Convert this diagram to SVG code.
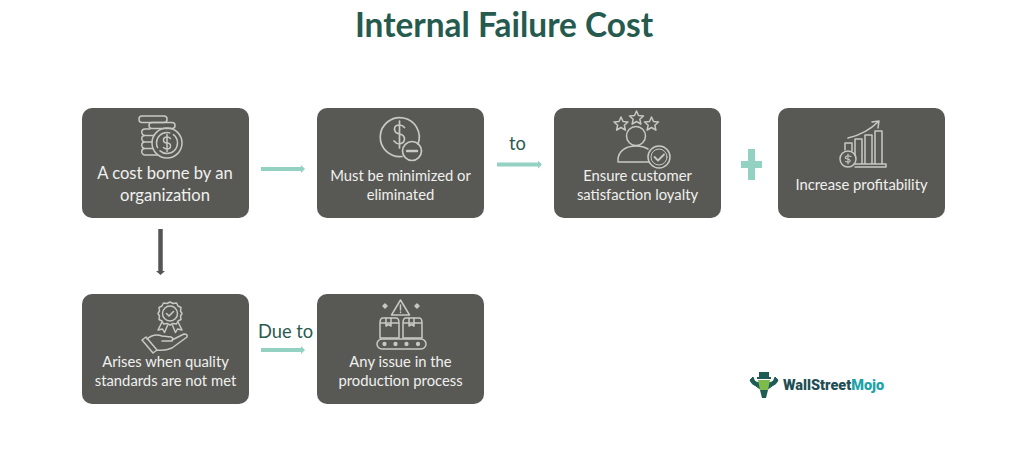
<svg xmlns="http://www.w3.org/2000/svg" width="1024" height="456" viewBox="0 0 1024 456">
<style>
.box{fill:#585955}
.t{font-family:Lato,"Noto Sans",sans-serif;fill:#f0f0ee;text-anchor:middle;font-size:14.8px}
.l{font-family:Lato,"Noto Sans",sans-serif;fill:#2a5a50;font-size:18.3px}
.i{fill:none;stroke:#c8c8c4;stroke-width:1.5;stroke-linejoin:round;stroke-linecap:round}
.tc{stroke:#93d2c2;stroke-width:3.800;fill:none}
</style>
<defs>
<marker id="mg" markerUnits="userSpaceOnUse" markerWidth="5" markerHeight="8" refX="1" refY="4" orient="auto"><path d="M0 0L4 4L0 8z" fill="#93d2c2"/></marker>
<marker id="md" markerUnits="userSpaceOnUse" markerWidth="5" markerHeight="9" refX="1" refY="4.5" orient="auto"><path d="M0 0L4 4.500L0 9z" fill="#555"/></marker>
</defs>
<rect width="1024" height="456" fill="#fff"/>
<text id="title" x="504" y="37" text-anchor="middle" style="font-family:Lato,'Noto Sans',sans-serif;font-weight:700;font-size:33.4px;fill:#255a4e">Internal Failure Cost</text>

<g id="connectors">
<line class="tc" x1="261" y1="169" x2="302" y2="169" marker-end="url(#mg)"/>
<line class="tc" x1="497" y1="164.500" x2="539" y2="164.500" marker-end="url(#mg)"/>
<line class="tc" x1="261" y1="350" x2="302" y2="350" marker-end="url(#mg)"/>
<line x1="160.500" y1="229" x2="160.500" y2="272" stroke="#555" stroke-width="4.500" marker-end="url(#md)"/>
<text class="l" x="509" y="150">to</text>
<text class="l" x="258" y="338">Due to</text>
<path id="plus" d="M748 149h7v12h7v7h-7v12h-7v-12h-7v-7h7z" fill="#93d2c2"/>
</g>

<g id="n1">
<rect class="box" x="82" y="108" width="167" height="110" rx="10"/>
<g class="i">
<rect x="139" y="116" width="28" height="6.500" rx="3"/>
<rect x="149" y="122.500" width="26" height="6" rx="3"/>
<path d="M150 129h-5a3 3 0 0 0 0 6.500a3 3 0 0 0 0 6.500a3 3 0 0 0 0 6.500a3 3 0 0 0 0 6.500h12M145 135.500h9M145 142h7M145 148.500h8"/>
<circle cx="167" cy="143" r="15"/>
<circle cx="167" cy="143" r="10.500" stroke-dasharray="24 4"/>
<path d="M170.500 138.500q-1.500-1.500-3.500-1.500q-3.500 0-3.500 3t3.500 3t3.500 3t-3.500 3q-2 0-3.500-1.500M167 134.500v17"/>
</g>
<text class="t" style="font-size:16.6px" x="165" y="179">A cost borne by an</text>
<text class="t" style="font-size:16.6px" x="165" y="201">organization</text>
</g>

<g id="n2">
<rect class="box" x="317" y="108" width="167" height="110" rx="10"/>
<g class="i">
<path d="M418 144a19.500 19.500 0 1 0-16 12.500" stroke-width="1.700"/>
<path d="M404.500 127.500q-2-2.500-5-2.500q-5 0-5 4t5 5t5 5t-5 5q-3 0-5.500-3M399.500 121v27" stroke-width="1.700"/>
<circle cx="412" cy="151" r="9.500" stroke-width="1.700"/>
<path d="M407 151h10" stroke-width="2.400"/>
</g>
<text class="t" x="400.500" y="181">Must be minimized or</text>
<text class="t" x="400.500" y="200">eliminated</text>
</g>

<g id="n3">
<rect class="box" x="554" y="108" width="167" height="110" rx="10"/>
<g class="i">
<path d="M621 117l2 4.500 5 .5-3.700 3.200 1.100 5-4.400-2.700-4.400 2.700 1.100-5-3.700-3.200 5-.5z"/>
<path d="M636.500 111l2 4.500 5 .5-3.700 3.200 1.100 5-4.400-2.700-4.400 2.700 1.100-5-3.700-3.200 5-.5z"/>
<path d="M651.500 117l2 4.500 5 .5-3.700 3.200 1.100 5-4.400-2.700-4.400 2.700 1.100-5-3.700-3.200 5-.5z"/>
<circle cx="636" cy="136" r="9.500"/>
<path d="M618 162v-2c0-9 8-14 18-14q7 0 12 3M618 162h31"/>
<circle cx="659" cy="157" r="11"/>
<circle cx="659" cy="157" r="8" stroke-width="1"/>
<path d="M654.500 157l3.500 3.500 6-6" stroke-width="1.800"/>
</g>
<text class="t" x="637.500" y="181">Ensure customer</text>
<text class="t" x="637.500" y="200">satisfaction loyalty</text>
</g>

<g id="n4">
<rect class="box" x="778" y="108" width="167" height="110" rx="10"/>
<g class="i">
<path d="M848 138q18-4 31-17M872 122l7-1-1 7"/>
<path d="M845 150v-7h7v8M855 155v-16h7v25M865 164v-29h7v29M875 164v-33h7v33M854 164h32v3h-31"/>
<circle cx="848" cy="159" r="8"/>
<path d="M851 156.500q-3-1.500-5 0t1.500 2.500t2.500 2.500t-4.500 0M848 154v10" stroke-width="1.100"/>
</g>
<text class="t" x="861.500" y="190">Increase profitability</text>
</g>

<g id="n5">
<rect class="box" x="82" y="294" width="167" height="110" rx="10"/>
<g class="i" stroke-width="1.300">
<path d="M170 302l3 1.500 3.500-.5 1.500 3 3 1.500-.5 3.500 1.500 2.500-1.500 2.500.5 3.500-3 1.500-1.500 3-3.500-.5-3 1.500-3-1.500-3.500.5-1.500-3-3-1.500.5-3.500-1.500-2.500 1.500-2.500-.5-3.500 3-1.500 1.500-3 3.500.5z"/>
<circle cx="170" cy="313.500" r="7.500"/>
<path d="M166.500 313.500l2.500 2.500 4.500-4.500" stroke-width="1.600"/>
<path d="M162 322l-4 8 4.500-1 2 3.500 3-7M178 322l4 8-4.500-1-2 3.500-3-7"/>
<path d="M142 340l4-3 11 13-4 3zM147 339q7-6 15-3l9 1q3 1 1 4h-10M172 340l12-6q4 0 3 3l-15 11q-7 3-15 2"/>
</g>
<text class="t" x="165.500" y="367">Arises when quality</text>
<text class="t" x="165.500" y="386">standards are not met</text>
</g>

<g id="n6">
<rect class="box" x="317" y="294" width="167" height="110" rx="10"/>
<g class="i" stroke-width="1.300">
<path d="M400.500 300l9 15h-18zM400.500 305v5M400.500 312v.5"/>
<path d="M385 304l2 2-2 2-2-2zM417 304l2 2-2 2-2-2z" fill="#c8c8c4"/>
<path d="M380 338v-15q0-5 3-5h13q3 0 3 5v15zM403 338v-15q0-5 3-5h13q3 0 3 5v15zM380 323h19M403 323h19"/>
<path d="M386 318v8l2.500-1.500 2.500 1.500v-8M409 318v8l2.500-1.500 2.500 1.500v-8"/>
<rect x="377" y="339" width="49" height="10" rx="5"/>
<g fill="#c8c8c4"><circle cx="384.500" cy="344" r="1.400"/><circle cx="395.500" cy="344" r="1.400"/><circle cx="406.500" cy="344" r="1.400"/><circle cx="418" cy="344" r="1.400"/></g>
</g>
<text class="t" x="400.500" y="367">Any issue in the</text>
<text class="t" x="400.500" y="386">production process</text>
</g>

<g id="logo">
<path d="M750 380q1 4 6 6l4 3v-6l-4-1q-2-1-3-5zM778 380q-1 4-6 6l-4 3v-6l4-1q2-1 3-5z" fill="#1f5c55" stroke="#1f5c55"/>
<path d="M759 372v5h-2v2h14v-2h-2v-5z" fill="#1f5c55"/>
<path d="M758 380h12l-2 10h-8z" fill="#7dbb4a"/>
<path d="M760 390h8l-2 8h-4z" fill="#1f5c55"/>
<text x="783" y="390" style="font-family:Roboto,'Liberation Sans',sans-serif;font-weight:900;font-size:14.500px;fill:#1f4f55">WallStreet<tspan fill="#1fa3a8">Mojo</tspan></text>
</g>
</svg>
